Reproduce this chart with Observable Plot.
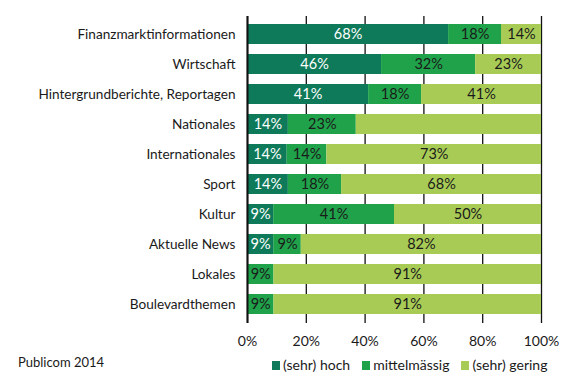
<!DOCTYPE html>
<html>
<head>
<meta charset="utf-8">
<script src="https://cdn.jsdelivr.net/npm/d3@7"></script>
<script src="https://cdn.jsdelivr.net/npm/@observablehq/plot@0.6"></script>
<style>
  html, body { margin: 0; padding: 0; background: #fff; }
  body { width: 568px; height: 379px; position: relative; font-family: Lato, "Open Sans", sans-serif; color: #1a1a1a; }
  #chart { position: absolute; left: 0; top: 0; }
  #caption { position: absolute; left: 18px; top: 354px; font-size: 13px; }
  #legend { position: absolute; left: 272px; top: 356px; font-size: 14px; display: flex; gap: 12px; white-space: nowrap; }
  #legend span.sw { display: inline-block; width: 8px; height: 9px; margin-right: 3px; }
</style>
</head>
<body>
<div id="chart"></div>
<div id="caption">Publicom 2014</div>
<div id="legend"></div>
<script>
const categories = ["Finanzmarktinformationen", "Wirtschaft", "Hintergrundberichte, Reportagen", "Nationales", "Internationales", "Sport", "Kultur", "Aktuelle News", "Lokales", "Boulevardthemen"];
const levels = ["(sehr) hoch", "mittelmässig", "(sehr) gering"];
const colors = ["#0f7a5a", "#20a24a", "#a8cb56"];
const textColors = ["#ffffff", "#1a1a1a", "#1a1a1a"];
// segment widths (percent)
const hoch = [68.4, 45.6, 41.2, 13.9, 13.5, 13.9, 8.9, 8.9, 0, 0];
const mittel = [18, 32, 18, 23.1, 13.5, 18.1, 41.1, 9.4, 9, 9];
const gering = [13.6, 22.4, 40.8, 63, 73, 68, 50, 81.7, 91, 91];
// printed labels
const hochLabels = ["68%", "46%", "41%", "14%", "14%", "14%", "9%", "9%", null, null];
const mittelLabels = ["18%", "32%", "18%", "23%", "14%", "18%", "41%", "9%", "9%", "9%"];
const geringLabels = ["14%", "23%", "41%", null, "73%", "68%", "50%", "82%", "91%", "91%"];
const xTicks = [0, 20, 40, 60, 80, 100];

const series = [hoch, mittel, gering];
const labelSeries = [hochLabels, mittelLabels, geringLabels];
const data = [];
categories.forEach((c, i) => {
  levels.forEach((l, j) => {
    data.push({category: c, level: l, value: series[j][i], label: labelSeries[j][i], tc: textColors[j]});
  });
});

const chart = Plot.plot({
  width: 568,
  height: 352,
  marginLeft: 247,
  marginRight: 27,
  marginTop: 16,
  marginBottom: 29,
  style: {fontFamily: "Lato, 'Open Sans', sans-serif", fontSize: "13px", color: "#1a1a1a", background: "#fff"},
  x: {domain: [0, 100], label: null},
  y: {domain: categories, paddingInner: 0.33, paddingOuter: 0.16, label: null},
  color: {domain: levels, range: colors},
  marks: [
    Plot.ruleX(xTicks, {stroke: "#111", strokeWidth: 1.3}),
    Plot.barX(data, Plot.stackX({y: "category", x: "value", fill: "level", order: levels})),
    Plot.ruleX([0], {stroke: "#111", strokeWidth: 2}),
    Plot.text(data, Plot.stackX({y: "category", x: "value", z: "level", order: levels, text: "label", fill: "tc", fontSize: 14.5})),
    Plot.axisX({ticks: xTicks, tickFormat: d => d + "%", tickSize: 0, tickPadding: 13, fontSize: 14}),
    Plot.axisY({tickSize: 0, tickPadding: 12, fontSize: 13.6})
  ]
});
document.getElementById("chart").appendChild(chart);

const legend = document.getElementById("legend");
levels.forEach((l, j) => {
  const item = document.createElement("div");
  const sw = document.createElement("span");
  sw.className = "sw";
  sw.style.background = colors[j];
  item.appendChild(sw);
  item.appendChild(document.createTextNode(l));
  legend.appendChild(item);
});
</script>
</body>
</html>
